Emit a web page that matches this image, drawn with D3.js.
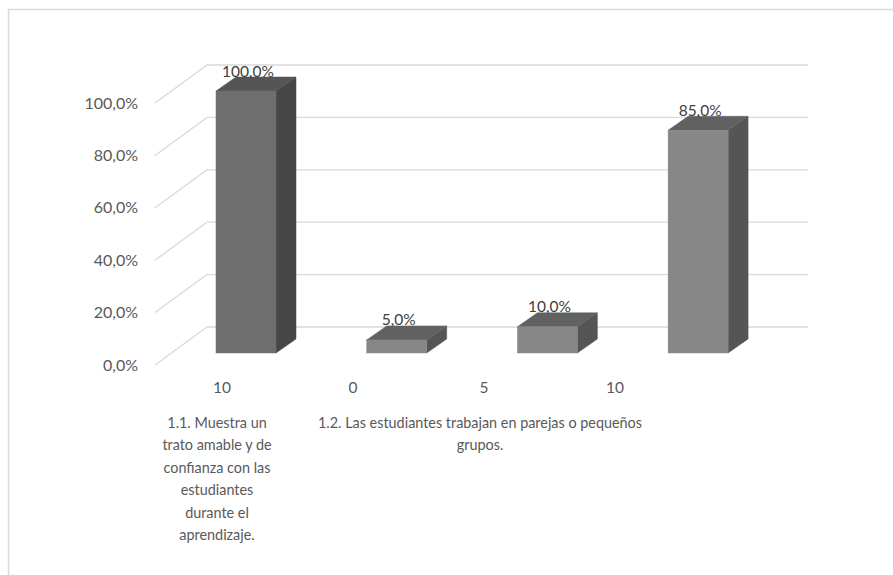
<!DOCTYPE html>
<html><head><meta charset="utf-8">
<script src="https://cdn.jsdelivr.net/npm/d3@7"></script>
<style>html,body{margin:0;padding:0;background:#fff;}svg{display:block;}</style>
</head><body>
<script>
// ---- data ----
const subLabels = ["10", "0", "5", "10"];
const values = [1.00, 0.05, 0.10, 0.85];
const valueLabels = ["100,0%", "5,0%", "10,0%", "85,0%"];
const groupLabels = [
  ["1.1. Muestra un", "trato amable y de", "confianza con las", "estudiantes", "durante el", "aprendizaje."],
  ["1.2. Las estudiantes trabajan en parejas o pequeños", "grupos."]
];
const groupMembers = [[0], [1, 2, 3]];
const yTicks = [0, 0.2, 0.4, 0.6, 0.8, 1.0];
const yTickLabels = ["0,0%", "20,0%", "40,0%", "60,0%", "80,0%", "100,0%"];

// ---- layout ----
const W = 893, H = 575;
const svg = d3.select("body").append("svg").attr("width", W).attr("height", H);
const font = "Lato, 'Open Sans', sans-serif";

// chart border (only top/left visible)
svg.append("rect").attr("x", 8.5).attr("y", 9.5).attr("width", W + 20).attr("height", H + 20)
  .attr("fill", "#fff").attr("stroke", "#d9d9d9").attr("stroke-width", 1.5);

const floorDepth = [52, -38];   // depth vector of the 3D floor
const barOffset = [16.4, -12];  // bar front offset inside depth
const barDepth = [20, -14];     // bar own depth

const y = d3.scaleLinear().domain([0, 1]).range([365, 103]);
const x = d3.scaleBand().domain(d3.range(values.length)).range([155, 756.3])
  .paddingInner(0.602).paddingOuter(0.296);
const xl = d3.scaleBand().domain(d3.range(subLabels.length)).range([156.5, 680.5]);

// gridlines: diagonal on side wall + horizontal on back wall
const grid = svg.append("g");
yTicks.forEach(t => {
  const y0 = y(t);
  grid.append("line").attr("x1", 155).attr("y1", y0).attr("x2", 155 + floorDepth[0]).attr("y2", y0 + floorDepth[1])
    .attr("stroke", "#d9d9d9").attr("stroke-width", 1.3);
  grid.append("line").attr("x1", 155 + floorDepth[0]).attr("y1", y0 + floorDepth[1])
    .attr("x2", x.range()[1] + floorDepth[0]).attr("y2", y0 + floorDepth[1])
    .attr("stroke", "#d9d9d9").attr("stroke-width", 1.3);
});

// y axis labels
svg.append("g").selectAll("text").data(yTicks).join("text")
  .attr("x", 138).attr("y", d => y(d)).attr("dy", "0.35em")
  .attr("text-anchor", "end").attr("font-family", font).attr("font-size", 16)
  .attr("fill", "#595959").text((d, i) => yTickLabels[i]);

// bars
const colors = [
  {front: "#6e6e6e", side: "#464646", top: "#555555"},
  {front: "#878787", side: "#555555", top: "#616161"},
  {front: "#878787", side: "#555555", top: "#616161"},
  {front: "#878787", side: "#555555", top: "#616161"}
];
const bars = svg.append("g");
values.forEach((v, i) => {
  const x0 = x(i) + barOffset[0], x1 = x0 + x.bandwidth();
  const yb = y(0) + barOffset[1], yt = y(v) + barOffset[1];
  const dx = barDepth[0], dy = barDepth[1];
  const c = colors[i];
  const pts = a => a.map(p => p.join(",")).join(" ");
  bars.append("polygon").attr("points", pts([[x1, yb], [x1 + dx, yb + dy], [x1 + dx, yt + dy], [x1, yt]]))
    .attr("fill", c.side).attr("stroke", c.side).attr("stroke-width", 0.5);
  bars.append("polygon").attr("points", pts([[x0, yt], [x1, yt], [x1 + dx, yt + dy], [x0 + dx, yt + dy]]))
    .attr("fill", c.top).attr("stroke", c.top).attr("stroke-width", 0.5);
  bars.append("rect").attr("x", x0).attr("y", yt).attr("width", x1 - x0).attr("height", yb - yt)
    .attr("fill", c.front).attr("stroke", c.front).attr("stroke-width", 0.5);
  bars.append("text").attr("x", (x0 + x1) / 2 + 2).attr("y", yt + dy - 0.5)
    .attr("text-anchor", "middle").attr("font-family", font).attr("font-size", 15.5)
    .attr("fill", "#404040").text(valueLabels[i]);
});

// category labels (sub level)
svg.append("g").selectAll("text").data(subLabels).join("text")
  .attr("x", (d, i) => xl(i) + xl.bandwidth() / 2).attr("y", 388).attr("dy", "0.35em")
  .attr("text-anchor", "middle").attr("font-family", font).attr("font-size", 15.5)
  .attr("fill", "#595959").text(d => d);

// group labels
groupLabels.forEach((lines, g) => {
  const cx = d3.mean(groupMembers[g], i => xl(i) + xl.bandwidth() / 2);
  const t = svg.append("text").attr("text-anchor", "middle").attr("font-family", font)
    .attr("font-size", 14.4).attr("fill", "#595959");
  lines.forEach((ln, k) => {
    t.append("tspan").attr("x", g === 0 ? cx - 5 : cx - 4).attr("y", 423 + k * 22.4).attr("dy", "0.35em").text(ln);
  });
});
</script>
</body></html>
